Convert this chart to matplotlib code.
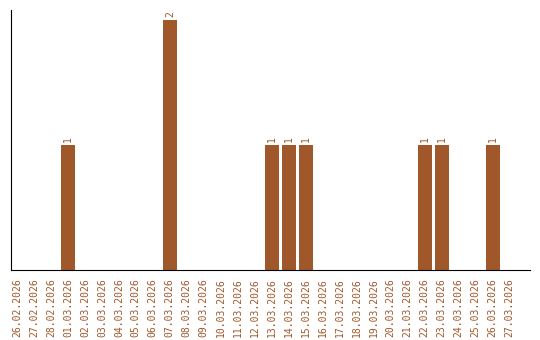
import matplotlib
matplotlib.use('Agg')
import matplotlib.pyplot as plt

dates = ['26.02.2026', '27.02.2026', '28.02.2026', '01.03.2026', '02.03.2026',
         '03.03.2026', '04.03.2026', '05.03.2026', '06.03.2026', '07.03.2026',
         '08.03.2026', '09.03.2026', '10.03.2026', '11.03.2026', '12.03.2026',
         '13.03.2026', '14.03.2026', '15.03.2026', '16.03.2026', '17.03.2026',
         '18.03.2026', '19.03.2026', '20.03.2026', '21.03.2026', '22.03.2026',
         '23.03.2026', '24.03.2026', '25.03.2026', '26.03.2026', '27.03.2026']
counts = [0, 0, 0, 1, 0, 0, 0, 0, 0, 2,
          0, 0, 0, 0, 0, 1, 1, 1, 0, 0,
          0, 0, 0, 0, 1, 1, 0, 0, 1, 0]

color = '#a0572a'
fig = plt.figure(figsize=(5.4, 3.4), dpi=100)
ax = fig.add_axes([0.0204, 0.206, 0.961, 0.765])

x = list(range(len(dates)))
ax.bar(x, counts, width=0.82, color=color)
for xi, c in zip(x, counts):
    if c > 0:
        ax.text(xi, c + 0.02, str(c), rotation=90, ha='center', va='bottom',
                color=color, fontsize=7, family='DejaVu Sans Mono')

ax.set_xlim(-0.35, 30.2)
ax.set_ylim(0, 2.08)
ax.set_xticks(x)
ax.set_xticklabels(dates, rotation=90, color=color, fontsize=7,
                   family='DejaVu Sans Mono')
ax.tick_params(axis='x', length=0, pad=6)
ax.set_yticks([])
ax.spines['top'].set_visible(False)
ax.spines['right'].set_visible(False)

fig.savefig('out.png', dpi=100)
